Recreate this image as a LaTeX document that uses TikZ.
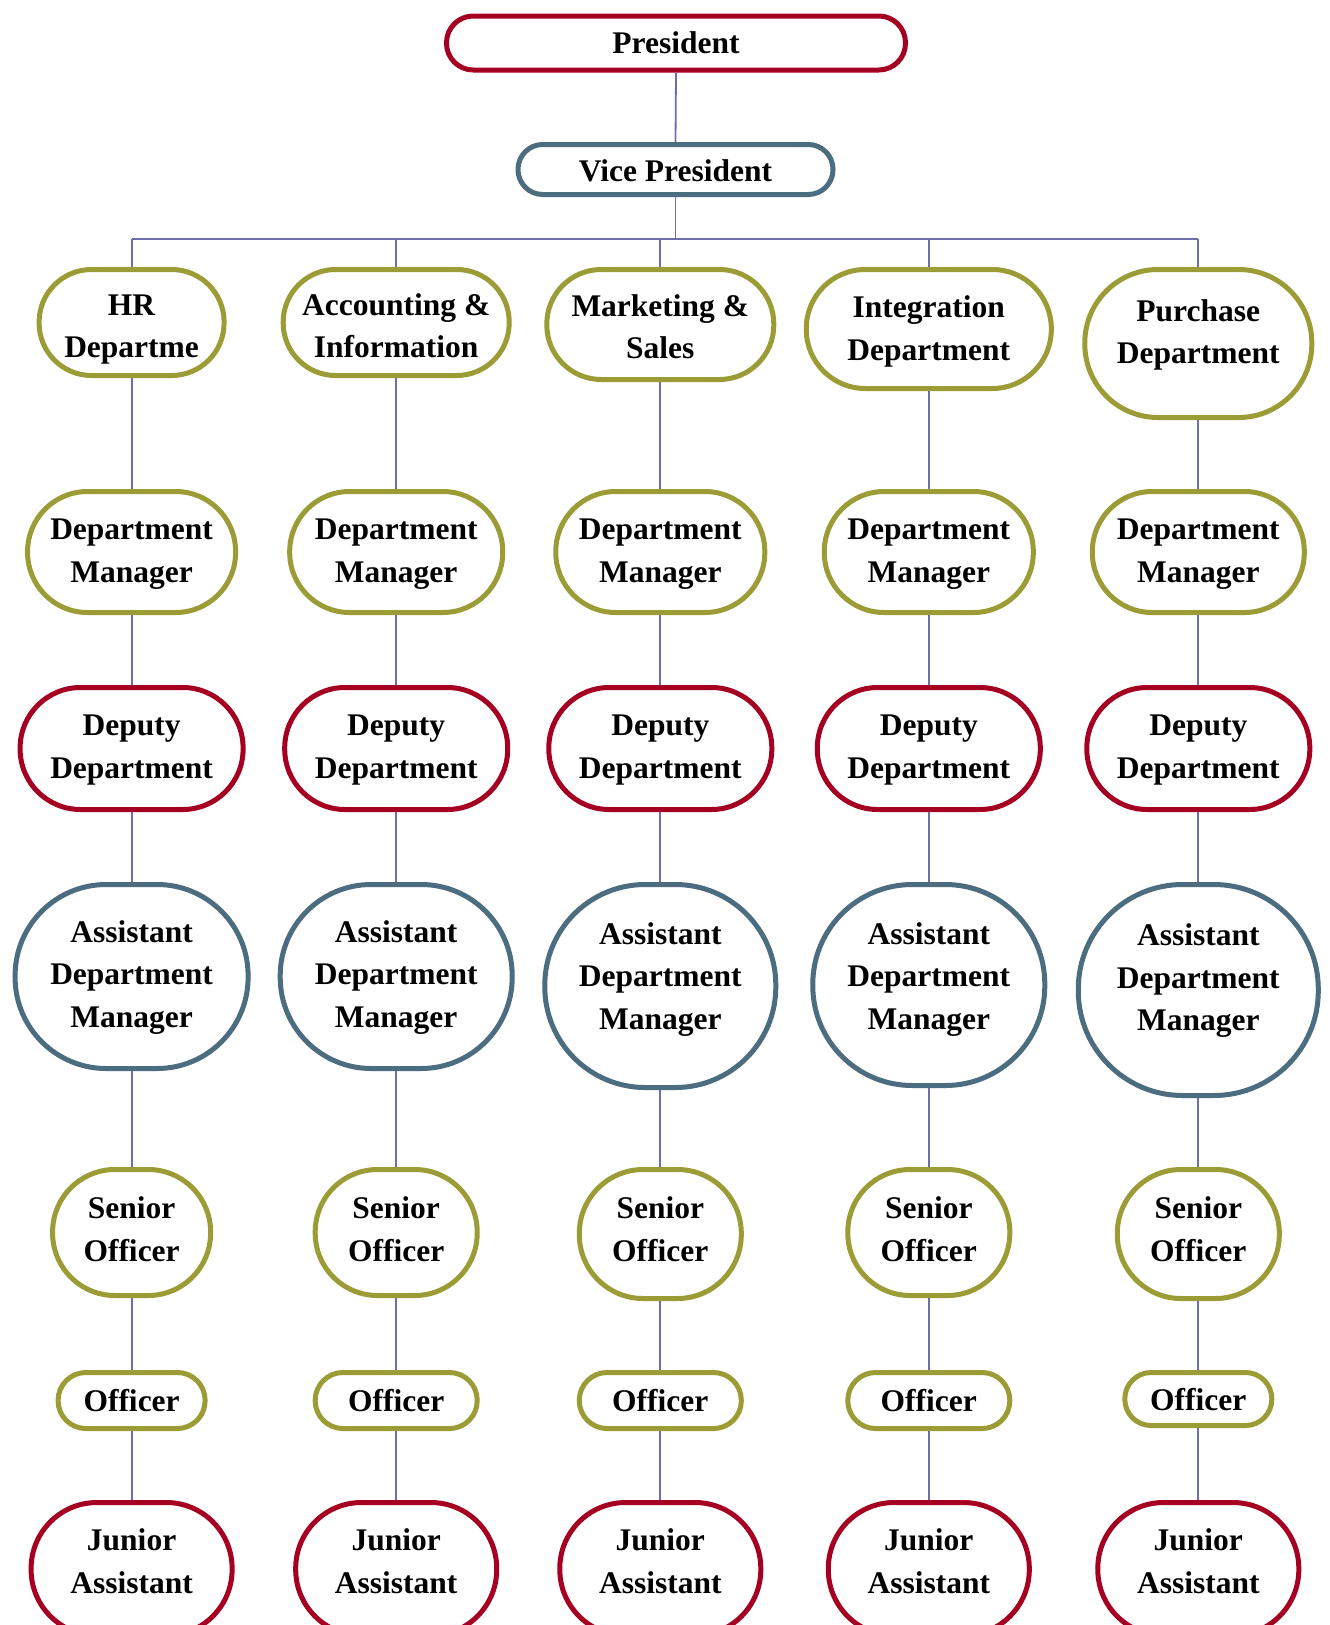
\documentclass[tikz,border=0pt]{standalone}
\usepackage{fontspec}
\setmainfont{Liberation Serif}
\definecolor{cred}{RGB}{165,0,33}
\definecolor{colive}{RGB}{156,156,54}
\definecolor{cblue}{RGB}{76,108,128}
\definecolor{cline}{RGB}{110,110,170}
% name, x, y, outer width, outer height, colour, text, text shift down
\newcommand\orgbox[8]{%
  \pgfmathsetmacro\bw{#4-5}%
  \pgfmathsetmacro\bh{#5-5}%
  \pgfmathsetmacro\br{0.495*min(\bw,\bh)}%
  \pgfmathsetmacro\ty{-(#8)}%
  \node[box, draw=#6, minimum width=\bw pt, minimum height=\bh pt, rounded corners=\br pt] (#1) at (#2,#3)
    {\raisebox{\ty pt}[\height][\depth]{\begin{tabular}{@{}c@{}}#7\end{tabular}}};%
}
\begin{document}
\begin{tikzpicture}[x=1pt,y=-1pt,
  box/.style={line width=5pt, fill=white, inner sep=0pt,
    font=\fontsize{31.5}{42.5}\selectfont\bfseries, text=black},
  conn/.style={draw=cline, line width=1.8pt}]
\useasboundingbox (0,0) rectangle (1330,1625);
\clip (0,0) rectangle (1330,1625);
\fill[white] (0,0) rectangle (1330,1625);

\orgbox{pres}{676}{43}{464}{59}{cred}{President}{1.5}
\orgbox{vp}{675.5}{169.5}{320}{55}{cblue}{Vice President}{3}
\coordinate (bar) at (675.5,239);

% Row 1
\orgbox{c1r1}{131.6}{322.5}{190}{111}{colive}{HR\\Departme}{5.5}
\orgbox{c2r1}{396.2}{322.5}{231}{111}{colive}{Accounting \&\\Information}{5.5}
\orgbox{c3r1}{660.3}{324.5}{232}{115}{colive}{Marketing \&\\Sales}{4.5}
\orgbox{c4r1}{928.8}{329}{250}{124}{colive}{Integration\\Department}{1.5}
\orgbox{c5r1}{1198.3}{343.5}{232}{153}{colive}{Purchase\\Department}{-9.5}
% Row 2
\orgbox{c1r2}{131.6}{552}{213}{126}{colive}{Department\\Manager}{0.5}
\orgbox{c2r2}{396.2}{552}{218}{126}{colive}{Department\\Manager}{0.5}
\orgbox{c3r2}{660.3}{552}{214}{126}{colive}{Department\\Manager}{0.5}
\orgbox{c4r2}{928.8}{552}{214}{126}{colive}{Department\\Manager}{0.5}
\orgbox{c5r2}{1198.3}{552}{217}{126}{colive}{Department\\Manager}{0.5}
% Row 3
\orgbox{c1r3}{131.6}{748.5}{228}{127}{cred}{Deputy\\Department}{0}
\orgbox{c2r3}{396.2}{748.5}{228}{127}{cred}{Deputy\\Department}{0}
\orgbox{c3r3}{660.3}{748.5}{228}{127}{cred}{Deputy\\Department}{0}
\orgbox{c4r3}{928.8}{748.5}{228}{127}{cred}{Deputy\\Department}{0}
\orgbox{c5r3}{1198.3}{748.5}{228}{127}{cred}{Deputy\\Department}{0}
% Row 4
\orgbox{c1r4}{131.6}{976.5}{238}{189}{cblue}{Assistant\\Department\\Manager}{-0.5}
\orgbox{c2r4}{396.2}{976.5}{237}{189}{cblue}{Assistant\\Department\\Manager}{-0.5}
\orgbox{c3r4}{660.3}{986}{236}{208}{cblue}{Assistant\\Department\\Manager}{-8}
\orgbox{c4r4}{928.8}{985}{237}{206}{cblue}{Assistant\\Department\\Manager}{-7}
\orgbox{c5r4}{1198.3}{990}{245}{216}{cblue}{Assistant\\Department\\Manager}{-10.5}
% Row 5
\orgbox{c1r5}{131.6}{1232.5}{163}{131}{colive}{Senior\\Officer}{-1}
\orgbox{c2r5}{396.2}{1232.5}{167}{131}{colive}{Senior\\Officer}{-1}
\orgbox{c3r5}{660.3}{1234}{167}{134}{colive}{Senior\\Officer}{-2.5}
\orgbox{c4r5}{928.8}{1232.5}{167}{131}{colive}{Senior\\Officer}{-1}
\orgbox{c5r5}{1198.3}{1234}{167}{134}{colive}{Senior\\Officer}{-2.5}
% Row 6
\orgbox{c1r6}{131.6}{1400.5}{152}{61}{colive}{Officer}{2.5}
\orgbox{c2r6}{396.2}{1400.5}{167}{61}{colive}{Officer}{2.5}
\orgbox{c3r6}{660.3}{1400.5}{167}{61}{colive}{Officer}{2.5}
\orgbox{c4r6}{928.8}{1400.5}{167}{61}{colive}{Officer}{2.5}
\orgbox{c5r6}{1198.3}{1399}{152}{58}{colive}{Officer}{3}
% Row 7
\orgbox{c1r7}{131.6}{1569}{206}{138}{cred}{Junior\\Assistant}{-5.5}
\orgbox{c2r7}{396.2}{1569}{206}{138}{cred}{Junior\\Assistant}{-5.5}
\orgbox{c3r7}{660.3}{1569}{206}{138}{cred}{Junior\\Assistant}{-5.5}
\orgbox{c4r7}{928.8}{1569}{206}{138}{cred}{Junior\\Assistant}{-5.5}
\orgbox{c5r7}{1198.3}{1569}{206}{138}{cred}{Junior\\Assistant}{-5.5}

% connectors
\draw[conn] (pres.south) -- (vp.north);
\draw[conn] (vp.south) -- (bar);
\draw[conn] (c1r1.north |- bar) -- (c5r1.north |- bar);
\foreach \c in {1,...,5}{
  \draw[conn] (c\c r1.north) -- (c\c r1.north |- bar);
  \foreach \r in {1,...,6}{
    \pgfmathtruncatemacro\nr{\r+1}
    \draw[conn] (c\c r\r.south) -- (c\c r\nr.north);
  }
}
\end{tikzpicture}
\end{document}
